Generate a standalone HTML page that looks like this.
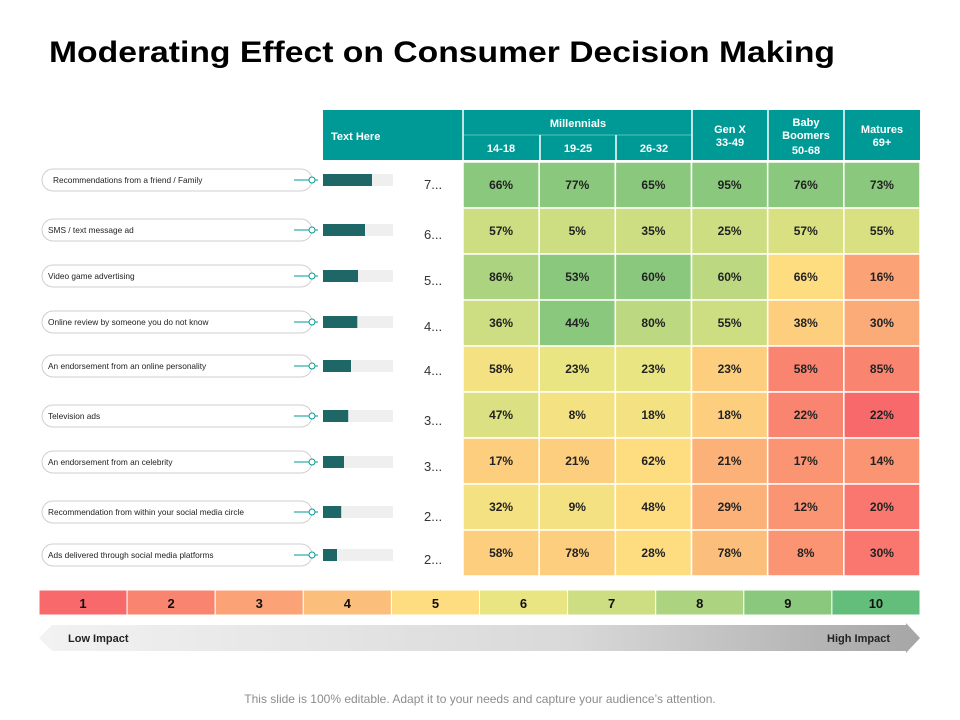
<!DOCTYPE html>
<html><head><meta charset="utf-8"><style>
html,body{margin:0;padding:0;background:#fff;}
svg{display:block;font-family:"Liberation Sans",sans-serif;}
</style></head><body>
<svg id="chart" width="960" height="720" viewBox="0 0 960 720" xmlns="http://www.w3.org/2000/svg">
<text x="49" y="62" font-size="30" font-weight="bold" textLength="786" lengthAdjust="spacingAndGlyphs">Moderating Effect on Consumer Decision Making</text>
<g id="header">
<rect x="323" y="110" width="597" height="50" fill="#009a96"/>
<text x="331" y="140" font-size="11" font-weight="bold" fill="#fff">Text Here</text>
<text x="578" y="127" font-size="11" font-weight="bold" fill="#fff" text-anchor="middle">Millennials</text>
<line x1="463" y1="135" x2="692" y2="135" stroke="#5cc0bb" stroke-width="1"/>
<text x="501" y="152" font-size="11" font-weight="bold" fill="#fff" text-anchor="middle">14-18</text>
<text x="578" y="152" font-size="11" font-weight="bold" fill="#fff" text-anchor="middle">19-25</text>
<text x="654" y="152" font-size="11" font-weight="bold" fill="#fff" text-anchor="middle">26-32</text>
<text x="730" y="133" font-size="11" font-weight="bold" fill="#fff" text-anchor="middle">Gen X</text>
<text x="730" y="146" font-size="11" font-weight="bold" fill="#fff" text-anchor="middle">33-49</text>
<text x="806" y="126" font-size="11" font-weight="bold" fill="#fff" text-anchor="middle">Baby</text>
<text x="806" y="139" font-size="11" font-weight="bold" fill="#fff" text-anchor="middle">Boomers</text>
<text x="806" y="154" font-size="11" font-weight="bold" fill="#fff" text-anchor="middle">50-68</text>
<text x="882" y="133" font-size="11" font-weight="bold" fill="#fff" text-anchor="middle">Matures</text>
<text x="882" y="146" font-size="11" font-weight="bold" fill="#fff" text-anchor="middle">69+</text>
<g stroke="#ffffff" stroke-width="1.5">
<line x1="463" y1="110" x2="463" y2="160"/><line x1="540" y1="135" x2="540" y2="160"/><line x1="616" y1="135" x2="616" y2="160"/>
<line x1="692" y1="110" x2="692" y2="160"/><line x1="768" y1="110" x2="768" y2="160"/><line x1="844" y1="110" x2="844" y2="160"/>
</g>
</g>
<g id="rows"></g>
<g id="cells"></g>
<g id="scale"></g>
<defs><linearGradient id="arrowGrad" x1="0" x2="1"><stop offset="0" stop-color="#f2f2f2"/><stop offset="0.6" stop-color="#d9d9d9"/><stop offset="1" stop-color="#a6a6a6"/></linearGradient></defs>
<polygon points="39,638 52,625 906,625 906,623 920,638 906,653 906,651 52,651" fill="url(#arrowGrad)"/>
<text x="68" y="642" font-size="11" font-weight="bold" fill="#222">Low Impact</text>
<text x="890" y="642" font-size="11" font-weight="bold" fill="#222" text-anchor="end">High Impact</text>
<text x="480" y="703" font-size="12" fill="#8c8c8c" text-anchor="middle">This slide is 100% editable. Adapt it to your needs and capture your audience’s attention.</text>
</svg>
<script>
const categories = ["Recommendations  from a friend / Family","SMS / text message ad","Video game advertising","Online review by someone you do not know","An endorsement from an online personality","Television ads","An endorsement from an celebrity","Recommendation from within your social media circle","Ads delivered through social media platforms"];
const barValues = [70,60,50,49,40,36,30,26,20];
const barLabels = ["7...","6...","5...","4...","4...","3...","3...","2...","2..."];
const cellValues = [
 [66,77,65,95,76,73],[57,5,35,25,57,55],[86,53,60,60,66,16],[36,44,80,55,38,30],
 [58,23,23,23,58,85],[47,8,18,18,22,22],[17,21,62,21,17,14],[32,9,48,29,12,20],[58,78,28,78,8,30]];
const cellLevels = [
 [9,9,9,9,9,9],[7,7,7,7,6.6,6.6],[8,9,9,7.5,5,3],[7,9,7.5,7,4.5,3.3],
 [5.5,6,6,4.5,2,2],[6.5,5.5,5.5,4.5,2,1],[4.5,4.5,5,3.5,2.5,2.5],[5.5,5.5,5,3.5,2.5,1.5],[4.5,4.5,5,4,2.5,1.5]];
const scaleLevels = [1,2,3,4,5,6,7,8,9,10];
const scaleColors = ["#f8696b","#f98570","#fba276","#fcbf7b","#fedd81","#e9e583","#ccdd82","#acd380","#8ac97d","#63be7b"];
const NS="http://www.w3.org/2000/svg";
function mk(tag,attrs,parent,text){const e=document.createElementNS(NS,tag);for(const k in attrs)e.setAttribute(k,attrs[k]);if(text!==undefined)e.textContent=text;parent.appendChild(e);return e;}
function hex(c){return [1,3,5].map(i=>parseInt(c.substr(i,2),16));}
function levelColor(l){const i=Math.max(0,Math.min(8.999,l-1));const a=Math.floor(i),t=i-a;const c1=hex(scaleColors[a]),c2=hex(scaleColors[a+1]);return "rgb("+c1.map((v,k)=>Math.round(v+(c2[k]-v)*t)).join(",")+")";}
const tableTop=162,rowH=46,colX0=463,colW=76.17,trackX=323,trackW=70;
const yRow=i=>tableTop+i*rowH;
const xCol=j=>colX0+j*colW;
const xBar=v=>v/100*trackW;
const pillOffsets=[18,22,22,22,20,24,24,28,25];
const rowsG=document.getElementById('rows');
categories.forEach((c,i)=>{
 const cy=yRow(i)+pillOffsets[i];
 const g=mk('g',{},rowsG);
 
 
 const pill=mk('rect',{x:42,y:cy-11,width:270,height:22,rx:11,fill:'#fff',stroke:'#cfcfcf','stroke-width':1},g);
 
 
 const t=mk('text',{x:i===0?53:48,y:cy+3,'font-size':8.3,fill:'#222'},g,c);
 
 
 const ln=mk('line',{x1:294,y1:cy,x2:318,y2:cy,stroke:'#009a96','stroke-width':1},g);
 
 
 const ci=mk('circle',{cx:312,cy:cy,r:3,fill:'#fff',stroke:'#009a96','stroke-width':1},g);
 
 
 const tr=mk('rect',{x:trackX,y:cy-6,width:trackW,height:12,fill:'#efefef'},g);
 
 
 const b=mk('rect',{x:trackX,y:cy-6,width:xBar(barValues[i]),height:12,fill:'#1f6666'},g);
 
 
 const bl=mk('text',{x:424,y:cy+9,'font-size':13,fill:'#333'},g,barLabels[i]);
 
 
});
const cellsG=document.getElementById('cells');
cellValues.forEach((row,i)=>row.forEach((v,j)=>{
 const r=mk('rect',{x:xCol(j),y:yRow(i),width:colW,height:rowH,fill:levelColor(cellLevels[i][j]),stroke:'#fff','stroke-width':1.5},cellsG);
 
 
 const t=mk('text',{x:xCol(j)+colW/2,y:yRow(i)+rowH/2+4,'font-size':12,'font-weight':'bold','text-anchor':'middle',fill:'#222'},cellsG,v+'%');
 
 
}));
const scaleG=document.getElementById('scale');
const sx0=39,sw=(920-39)/10;
scaleLevels.forEach((l,k)=>{
 const r=mk('rect',{x:sx0+k*sw,y:590,width:sw,height:25,fill:scaleColors[l-1],stroke:'#fff','stroke-width':1},scaleG);
 
 
 const t=mk('text',{x:sx0+k*sw+sw/2,y:608,'font-size':13,'font-weight':'bold','text-anchor':'middle',fill:'#111'},scaleG,String(l));
 
 
});
</script>
</body></html>
